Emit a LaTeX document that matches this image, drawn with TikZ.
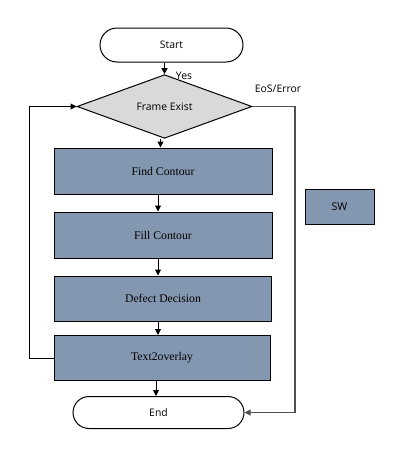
\documentclass[tikz,border=0pt]{standalone}
\usepackage{fontspec}
\setmainfont{Liberation Serif}
\newfontfamily\uisans{Open Sans}
\usetikzlibrary{shapes.geometric,shapes.misc,arrows.meta}
\definecolor{boxblue}{HTML}{8497B0}
\definecolor{diagrey}{HTML}{D9D9D9}
\definecolor{linegrey}{HTML}{505050}
\begin{document}
\begin{tikzpicture}[x=0.75pt,y=-0.75pt,
  proc/.style={draw=black,line width=0.75pt,fill=boxblue,rectangle,inner sep=0pt,
    font=\fontsize{8.8}{10}\selectfont},
  term/.style={draw=black,line width=0.75pt,fill=white,rounded rectangle,inner sep=0pt,
    font=\uisans\fontsize{7.8}{9}\selectfont},
  dec/.style={draw=black,line width=0.75pt,fill=diagrey,diamond,inner sep=0pt,
    font=\uisans\fontsize{7.8}{9}\selectfont},
  lbl/.style={inner sep=0pt,font=\uisans\fontsize{7.8}{9}\selectfont},
  arr/.style={line width=0.75pt,-{Triangle[length=4.5pt,width=4.5pt]}},
  conn/.style={line width=0.75pt}]
\useasboundingbox (0,0) rectangle (406,468);
\node[term,minimum width=107.25pt,minimum height=25.5pt] (start) at (171.5,45) {Start};
\node[dec,minimum width=131.25pt,minimum height=31.5pt] (frame) at (164.5,106.5) {Frame Exist};
\node[proc,minimum width=163.5pt,minimum height=34.5pt] (find) at (163,171) {Find Contour};
\node[proc,minimum width=163.5pt,minimum height=34.5pt] (fill) at (163,235) {Fill Contour};
\node[proc,minimum width=162.75pt,minimum height=33.75pt] (defect) at (163,298.5) {Defect Decision};
\node[proc,minimum width=162pt,minimum height=33.75pt] (text2) at (162,358) {Text2overlay};
\node[term,minimum width=128.25pt,minimum height=24pt] (end) at (158.5,412.5) {End};
\node[proc,font=\uisans\fontsize{8}{9}\selectfont,minimum width=51.75pt,minimum height=26.25pt] (sw) at (339.5,206.5) {SW};
\node[lbl] (yes) at (184,76) {Yes};
\node[lbl] (eos) at (278,89) {EoS/Error};
\coordinate (rt) at (295,0);
\coordinate (lt) at (29,0);
\draw[arr] (frame.north |- start.south) -- (frame.north);
\draw[arr] ([xshift=-3pt]frame.south) -- ([xshift=-3pt]frame.south |- find.north);
\draw[arr] ([xshift=-3.75pt]find.south) -- ([xshift=-3.75pt]fill.north);
\draw[arr] ([xshift=-3.75pt]fill.south) -- ([xshift=-3.75pt]fill.south |- defect.north);
\draw[arr] ([xshift=-3.75pt]defect.south) -- ([xshift=-3.75pt]defect.south |- text2.north);
\draw[arr] ([xshift=-4.5pt]text2.south) -- ([xshift=-4.5pt]text2.south |- end.north);
\draw[arr] (text2.west) -- (lt |- text2.west) -- (lt |- frame.west) -- (frame.west);
\draw[arr,draw=linegrey,line width=1pt] (frame.east) -- (rt |- frame.east) -- (rt |- end.east) -- (end.east);
\end{tikzpicture}
\end{document}
